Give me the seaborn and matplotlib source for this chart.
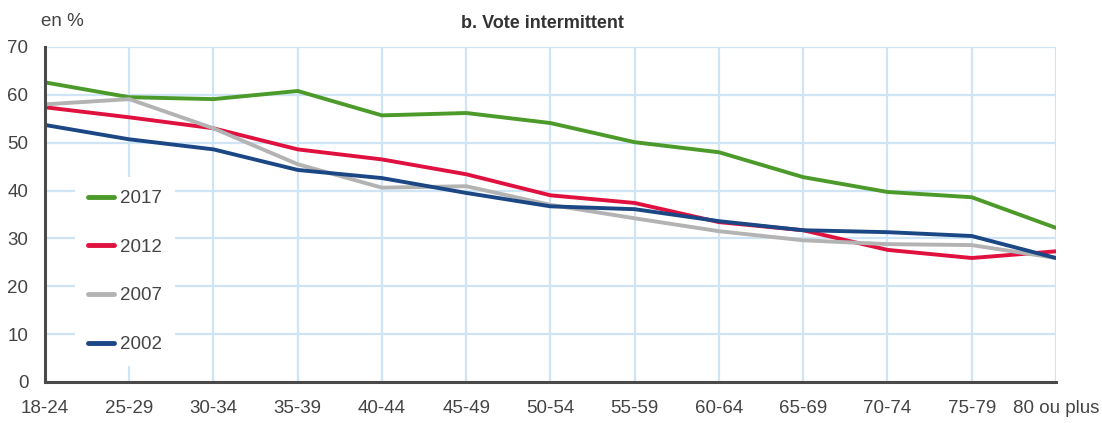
"""
Vote intermittent par tranche d'age, 2002-2017
"""
import pandas as pd
import seaborn as sns
import matplotlib.pyplot as plt

sns.set_style('white')
plt.rcParams['font.family'] = ['Liberation Sans', 'DejaVu Sans']

ages = ['18-24', '25-29', '30-34', '35-39', '40-44', '45-49', '50-54',
        '55-59', '60-64', '65-69', '70-74', '75-79', '80 ou plus']
v2017 = [62.6, 59.5, 59.1, 60.8, 55.7, 56.2, 54.1, 50.1, 48.0, 42.8, 39.7, 38.6, 32.2]
v2012 = [57.4, 55.3, 53.0, 48.6, 46.5, 43.4, 39.0, 37.4, 33.4, 31.7, 27.6, 25.9, 27.3]
v2007 = [58.0, 59.1, 53.0, 45.5, 40.6, 40.9, 37.0, 34.2, 31.5, 29.6, 28.8, 28.6, 25.9]
v2002 = [53.7, 50.7, 48.6, 44.3, 42.6, 39.5, 36.7, 36.1, 33.6, 31.7, 31.3, 30.5, 25.9]
years = ['2017', '2012', '2007', '2002']
colors = ['#4c9a2a', '#e0103f', '#b3b3b3', '#1b4785']

# long format for seaborn
df = pd.DataFrame({'age': ages * 4,
                   'pos': list(range(len(ages))) * 4,
                   'val': v2017 + v2012 + v2007 + v2002,
                   'annee': sum([[y] * len(ages) for y in years], [])})

fig = plt.figure(figsize=(11.02, 4.23), dpi=100)
ax = fig.add_axes([0.0408, 0.097, 0.9174, 0.792])

sns.lineplot(data=df, x='pos', y='val', hue='annee', hue_order=years,
             palette=colors, linewidth=2.8, ax=ax)

ax.set_xlim(0, len(ages) - 1)
ax.set_ylim(0, 70)
ax.set_xticks(range(len(ages)))
ax.set_xticklabels(ages)
ax.set_yticks(range(0, 71, 10))
ax.set_xlabel('')
ax.set_ylabel('')

# grid
ax.grid(True, color='#cfe5f6', linewidth=1.6)
ax.set_axisbelow(True)
for s in ['top', 'right']:
    ax.spines[s].set_visible(False)
for s in ['left', 'bottom']:
    ax.spines[s].set_color('#4a4a4a')
    ax.spines[s].set_linewidth(2.2)
    ax.spines[s].set_zorder(5)
ax.tick_params(axis='both', length=0, labelsize=13.5, colors='#444444')
ax.tick_params(axis='x', pad=13)
ax.tick_params(axis='y', pad=12)

leg = ax.legend(loc='upper left', bbox_to_anchor=(0.03, 0.612),
                borderaxespad=0, frameon=True, fontsize=13.5,
                labelspacing=1.68, handlelength=1.35, handletextpad=0.35,
                borderpad=0.7)
leg.get_frame().set_facecolor('white')
leg.get_frame().set_edgecolor('none')
leg.get_frame().set_alpha(1)
for line in leg.get_lines():
    line.set_linewidth(3.5)
for t in leg.get_texts():
    t.set_color('#444444')

fig.text(0.492, 0.944, 'b. Vote intermittent', ha='center', va='center',
         fontsize=13, fontweight='bold', color='#333333')
fig.text(0.037, 0.95, 'en %', ha='left', va='center', fontsize=13.5,
         color='#444444')

plt.savefig('out.png', dpi=100)
